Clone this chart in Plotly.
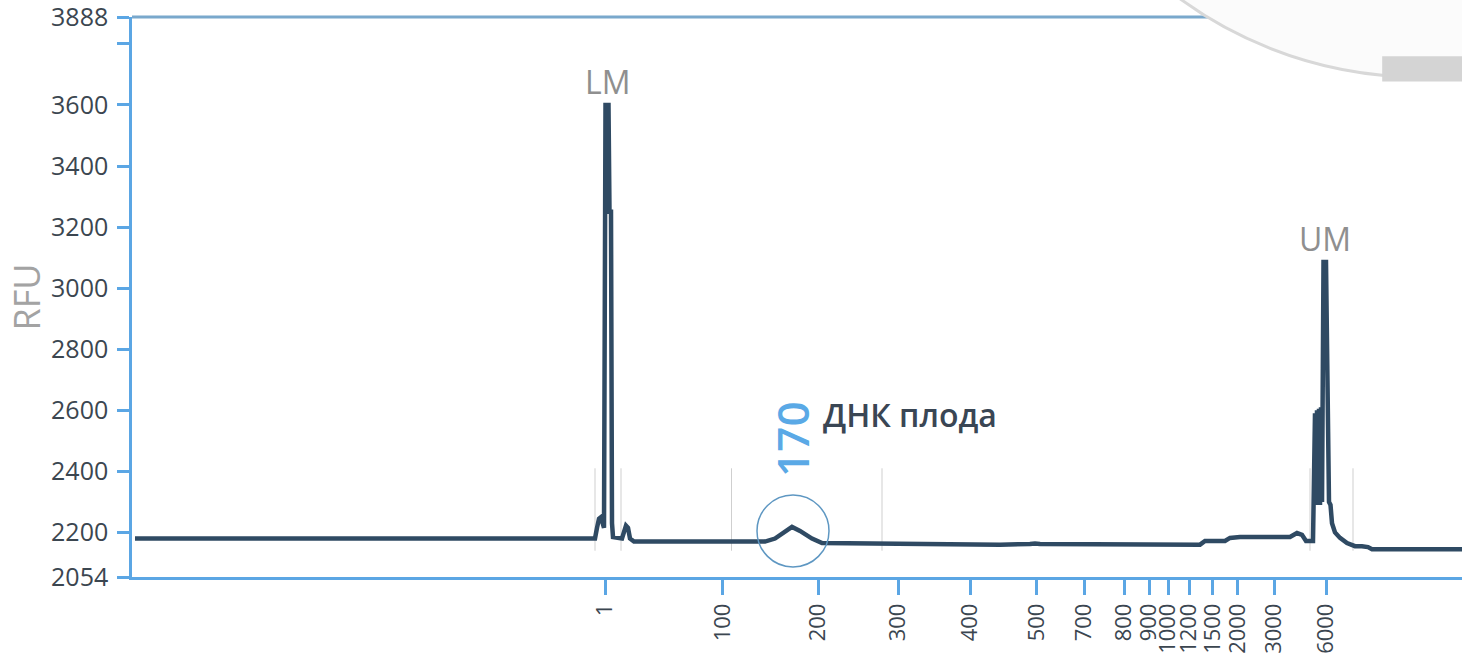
import plotly.graph_objects as go

# ---------------- data ----------------
# electropherogram trace: migration time (arbitrary s) vs fluorescence (RFU)
time_s = [0.3, 46.3, 46.5, 46.7, 46.9, 47.1, 47.2, 47.35, 47.65, 47.75, 47.9, 48.0, 48.1,
          49.0, 49.2, 49.4, 49.6, 49.8, 50.2, 56.8, 63.3, 64.3, 65.3, 66.0, 66.8, 68.0, 69.0,
          76.8, 86.8, 89.8, 90.3, 90.8, 96.8, 106.8, 107.3, 109.3, 109.8, 110.8, 115.8,
          116.5, 117.0, 117.4, 118.1, 118.3, 118.4, 118.5, 118.6, 118.7, 118.8, 118.9,
          119.0, 119.05, 119.15, 119.4,
          119.5, 119.6, 119.7, 119.85, 120.0, 120.3, 120.8, 121.5, 122.3, 123.0, 123.6,
          124.0, 133.0]
rfu = [2180, 2180, 2215, 2245, 2250, 2225, 2215, 3600, 3600, 3250, 3250, 2230, 2185,
       2180, 2200, 2222, 2215, 2180, 2170, 2170, 2170, 2180, 2205, 2218, 2205, 2180, 2165,
       2162, 2160, 2162, 2164, 2162, 2160, 2160, 2172, 2172, 2182, 2185, 2185,
       2198, 2192, 2172, 2172, 2590, 2300, 2600, 2290, 2605, 2290, 2610,
       2300, 2620, 3086, 3086,
       2700, 2700, 2300, 2290, 2230, 2200, 2182, 2165, 2155, 2155, 2152,
       2145, 2145]

# size ladder (bp) and the migration times at which they fall
ladder_sizes = ["1", "100", "200", "300", "400", "500", "700", "800", "900",
                "1000", "1200", "1500", "2000", "3000", "6000"]
ladder_times = [47.3, 59.07, 68.6, 76.6, 83.8, 90.47, 95.2, 99.2, 101.7,
                103.6, 105.7, 108.07, 110.57, 114.2, 119.4]

# peak boundary markers
boundary_times = [46.3, 48.9, 59.95, 75.0, 117.8, 122.1]
boundary_low, boundary_high = 2140, 2410

# y axis ticks
y_ticks = [2054, 2200, 2400, 2600, 2800, 3000, 3200, 3400, 3600, 3800, 3888]
y_ticktext = ["2054", "2200", "2400", "2600", "2800", "3000", "3200", "3400", "3600", "", "3888"]

# labelled peaks
lm_time, lm_rfu = 47.5, 3600
um_time, um_rfu = 119.25, 3086
fetal_time, fetal_rfu, fetal_size = 66.1, 2205, "170"
fetal_label = "ДНК плода"

# ---------------- figure ----------------
AXIS_BLUE = "#5ba6e4"
TRACE = "#2f4a63"
TEXT = "#3b4650"
FONT = "Open Sans"

bx, by = [], []
for t in boundary_times:
    bx += [t, t, None]
    by += [boundary_low, boundary_high, None]

fig = go.Figure()
fig.add_trace(go.Scatter(x=bx, y=by, mode="lines",
                         line=dict(color="#cfcfcf", width=1), hoverinfo="skip",
                         showlegend=False))
fig.add_trace(go.Scatter(x=time_s, y=rfu, mode="lines",
                         line=dict(color=TRACE, width=4.5), showlegend=False))

fig.update_layout(
    width=1462, height=656,
    margin=dict(l=132, r=0, t=17, b=79),
    paper_bgcolor="white", plot_bgcolor="white",
    font=dict(family=FONT, color=TEXT),
    xaxis=dict(range=[0, 133], showgrid=False, zeroline=False, automargin=False,
               showline=True, linecolor=AXIS_BLUE, linewidth=2.5,
               tickmode="array", tickvals=ladder_times, ticktext=ladder_sizes,
               ticks="outside", ticklen=15, tickwidth=2.5, tickcolor=AXIS_BLUE,
               ticklabeloverflow="allow",
               tickangle=-90, tickfont=dict(size=22, color=TEXT, family=FONT)),
    yaxis=dict(range=[2054, 3888], showgrid=False, zeroline=False, automargin=False,
               showline=True, linecolor=AXIS_BLUE, linewidth=2.5,
               tickmode="array", tickvals=y_ticks, ticktext=y_ticktext,
               ticks="outside", ticklen=12, tickwidth=2.5, tickcolor=AXIS_BLUE,
               ticklabelstandoff=4, ticklabeloverflow="allow",
               tickfont=dict(size=25, color=TEXT, family=FONT),
               title=dict(text="RFU", font=dict(size=36, color="#a3a3a3", family=FONT),
                          standoff=0)),
)

# top frame line
fig.add_shape(type="line", xref="paper", yref="paper", x0=0, x1=1, y0=1, y1=1,
              line=dict(color="#79a8cc", width=3), layer="above")

# decorative disc at top right
fig.add_shape(type="circle", xref="paper", yref="paper",
              x0=0.6624, x1=1.2744, y0=0.893, y1=2.346,
              fillcolor="#fbfbfb", line=dict(color="#d8d8d8", width=3), layer="above")
fig.add_shape(type="rect", xref="paper", yref="paper",
              x0=0.94, x1=1.01, y0=0.885, y1=0.93,
              fillcolor="#d4d4d4", line=dict(width=0), layer="above")

# circle around the fetal DNA peak
fig.add_shape(type="circle", xref="x", yref="y", xsizemode="pixel", ysizemode="pixel",
              xanchor=fetal_time, yanchor=fetal_rfu, x0=-36, x1=36, y0=-36, y1=36,
              line=dict(color="#5e97c2", width=1.5))

fig.add_annotation(x=lm_time, y=lm_rfu, text="LM", showarrow=False, yanchor="bottom",
                   font=dict(size=32, color="#8f8f8f", family=FONT))
fig.add_annotation(x=um_time, y=um_rfu, text="UM", showarrow=False, yanchor="bottom",
                   font=dict(size=32, color="#8f8f8f", family=FONT))
fig.add_annotation(x=fetal_time, y=fetal_rfu, text=fetal_size, showarrow=False,
                   textangle=-90, yshift=91, xshift=-1,
                   font=dict(size=44, color="#5aa9e6", family=FONT, weight=600))
fig.add_annotation(x=fetal_time, y=fetal_rfu, text=fetal_label, showarrow=False,
                   xanchor="left", xshift=28, yshift=116,
                   font=dict(size=32, color="#3a4654", family=FONT, weight=600))

fig.write_html("out.html", config={"displayModeBar": False},
               post_script="document.body.style.margin='0';"
                           "document.body.style.overflow='hidden';")
